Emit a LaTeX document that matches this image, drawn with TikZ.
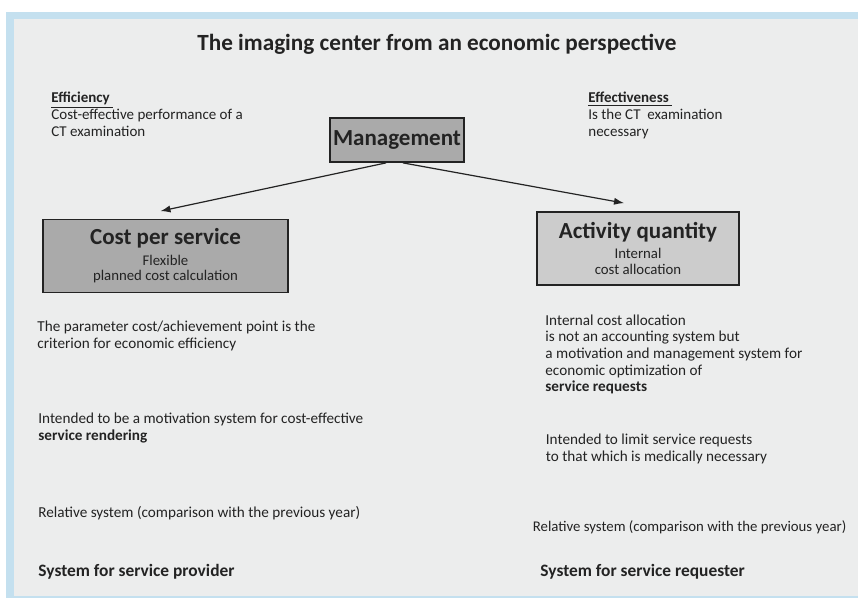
\documentclass[tikz,border=0pt]{standalone}
\usepackage{fontspec}
\setmainfont{Carlito}
\usepackage{xcolor}
\usetikzlibrary{arrows.meta,calc}
\definecolor{framebl}{RGB}{196,224,239}
\definecolor{panelgr}{RGB}{236,237,237}
\definecolor{boxdk}{RGB}{170,170,170}
\definecolor{boxlt}{RGB}{204,204,204}
\definecolor{inkgr}{RGB}{35,35,35}
\tikzset{>={Latex[length=5pt,width=3.6pt]}}
\tikzset{
  bigbox/.style={draw=inkgr,line width=0.9pt,inner sep=0pt,align=center,text=inkgr,
    font=\fontsize{7.4}{7.8}\selectfont},
  note/.style={anchor=base west,inner sep=0pt,align=left,text=inkgr,
    font=\fontsize{7.6}{8.5}\selectfont},
  foot/.style={anchor=base west,inner sep=0pt,text=inkgr,
    font=\fontsize{8.7}{10}\selectfont\bfseries},
  link/.style={->,line width=0.6pt,draw=inkgr}
}
\newcommand{\headline}[1]{{\fontsize{11.5}{12}\selectfont\bfseries #1}}

\begin{document}
\begin{tikzpicture}[x=0.5pt,y=-0.5pt]
            \useasboundingbox (0,0) rectangle (858,598);
            \fill[framebl] (6,12) rectangle (858,598);
            \fill[panelgr] (14,19) rectangle (858,596);
            \node[anchor=base,inner sep=0pt,text=inkgr,font=\fontsize{11.6}{12}\selectfont\bfseries] (title) at (437,51) {The imaging center from an economic perspective};
            % the two criteria (anchored at the last line)
            \node[note,font=\fontsize{7.5}{8.6}\selectfont] (eff) at (51,136.5) {\textbf{\underline{Efficiency\ }}\\Cost-effective performance of a\\CT examination};
            \node[note,font=\fontsize{7.5}{8.6}\selectfont] (effect) at (588,136.5) {\textbf{\underline{Effectiveness\ }}\\Is the CT\ \ examination\\necessary};
            % boxes
            \node[bigbox,fill=boxdk,minimum width=67pt,minimum height=22pt] (mgmt) at (397,140) {\headline{Management}};
            \node[bigbox,fill=boxdk,minimum width=122.5pt,minimum height=36.5pt] (cost) at (165.5,256) {\headline{Cost per service}\\[2.4pt]Flexible\\planned cost calculation};
            \node[bigbox,fill=boxlt,minimum width=101pt,minimum height=36.5pt] (act) at (638,248.5) {\headline{Activity quantity}\\[2.4pt]Internal\\cost allocation};
            \draw[link] ($(mgmt.south)+(-11,0)$) -- ($(cost.north)+(-5,-7.5)$);
            \draw[link] ($(mgmt.south)+(6,0)$) -- ($(act.north)+(-14,-8)$);
            % left column
            \node[note,font=\fontsize{7.6}{8.8}\selectfont] (crit) at (37,349) {The parameter cost/achievement point is the\\criterion for economic efficiency};
            \node[note] (motiv) at (38,441) {Intended to be a motivation system for cost-effective\\\textbf{service rendering}};
            \node[note] (relL) at (38,518) {Relative system (comparison with the previous year)};
            \node[foot] (provider) at (38,576.5) {System for service provider};
            % right column
            \node[note,font=\fontsize{7.6}{8.35}\selectfont] (alloc) at (545,392) {Internal cost allocation\\is not an accounting system but\\a motivation and management system for\\economic optimization of\\\textbf{service requests}};
            \node[note,font=\fontsize{7.6}{8.6}\selectfont] (limit) at (545.5,462) {Intended to limit service requests\\to that which is medically necessary};
            \node[note,font=\fontsize{7.4}{8.5}\selectfont] (relR) at (532.5,531.5) {Relative system (comparison with the previous year)};
            \node[foot] (requester) at (540,576.5) {System for service requester};
        \end{tikzpicture}
\end{document}
